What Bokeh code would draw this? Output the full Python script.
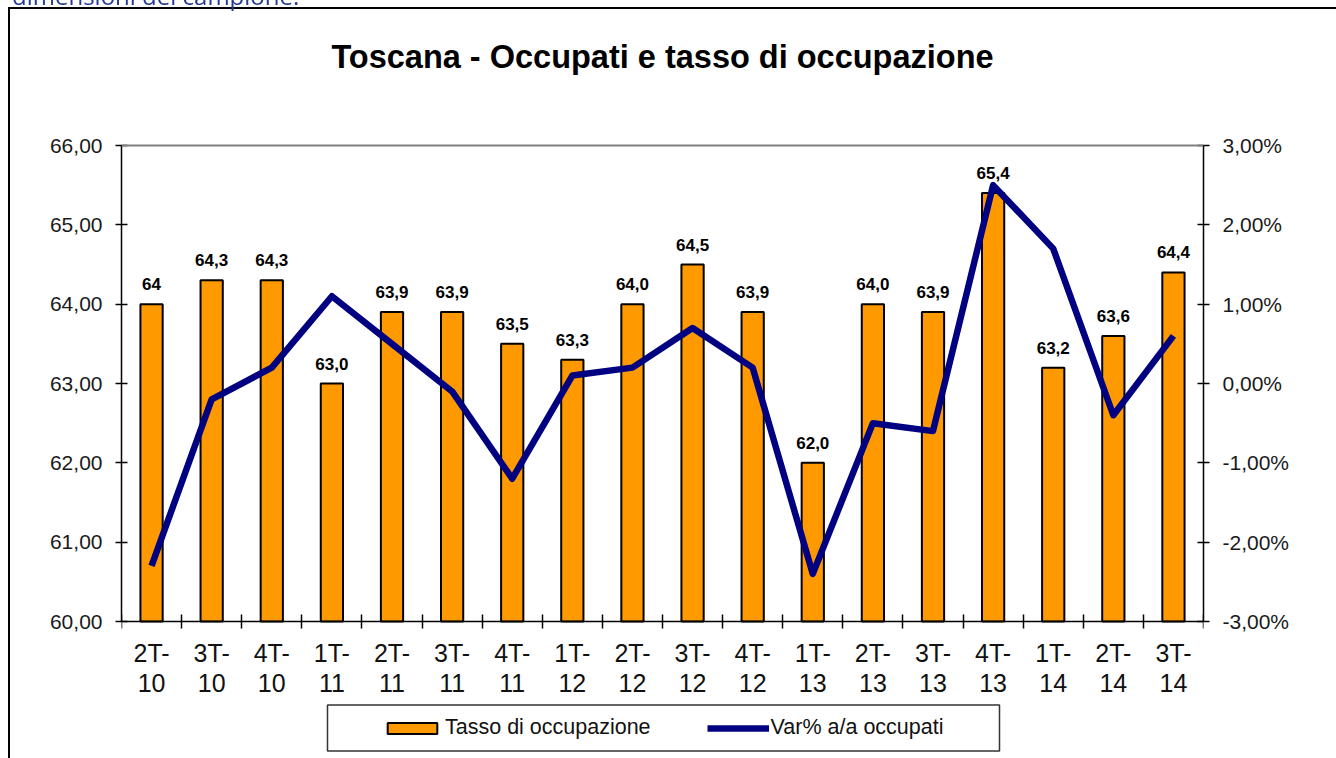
from bokeh.plotting import figure
from bokeh.models import (ColumnDataSource, Range1d, LinearAxis, FixedTicker, LabelSet, Label,
                          Legend, LegendItem, Div, Span, BoxAnnotation)
from bokeh.core.properties import value
from bokeh.embed import file_html
from bokeh.resources import INLINE

# ---------------- data ----------------
quarters = ["2T-10", "3T-10", "4T-10", "1T-11", "2T-11", "3T-11", "4T-11", "1T-12", "2T-12",
            "3T-12", "4T-12", "1T-13", "2T-13", "3T-13", "4T-13", "1T-14", "2T-14", "3T-14"]
quarter_tick_labels = ["2T-\n10", "3T-\n10", "4T-\n10", "1T-\n11", "2T-\n11", "3T-\n11", "4T-\n11",
                       "1T-\n12", "2T-\n12", "3T-\n12", "4T-\n12", "1T-\n13", "2T-\n13", "3T-\n13",
                       "4T-\n13", "1T-\n14", "2T-\n14", "3T-\n14"]
tasso = [64.0, 64.3, 64.3, 63.0, 63.9, 63.9, 63.5, 63.3, 64.0, 64.5, 63.9, 62.0, 64.0, 63.9,
         65.4, 63.2, 63.6, 64.4]
tasso_labels = ["64", "64,3", "64,3", "63,0", "63,9", "63,9", "63,5", "63,3", "64,0", "64,5",
                "63,9", "62,0", "64,0", "63,9", "65,4", "63,2", "63,6", "64,4"]
var_occupati = [-2.3, -0.2, 0.2, 1.1, 0.5, -0.1, -1.2, 0.1, 0.2, 0.7, 0.2, -2.4, -0.5, -0.6,
                2.5, 1.7, -0.4, 0.6]
left_ticks = [60, 61, 62, 63, 64, 65, 66]
left_tick_labels = ["60,00", "61,00", "62,00", "63,00", "64,00", "65,00", "66,00"]
right_ticks = [-3, -2, -1, 0, 1, 2, 3]
right_tick_labels = ["-3,00%", "-2,00%", "-1,00%", "0,00%", "1,00%", "2,00%", "3,00%"]
chart_title = "Toscana - Occupati e tasso di occupazione"
legend_labels = ["Tasso di occupazione", "Var% a/a occupati"]
page_caption = "dimensioni del campione."

# ---------------- geometry (pixels) ----------------
W, H = 1336, 758
AX_LEFT, AX_RIGHT = 121, 1203      # left / right value axes
AX_TOP, AX_BOTTOM = 145, 621       # top / bottom of the value scale
TITLE_Y = 56
FONT = "Liberation Sans"

n = len(quarters)
xpos = [i + 0.5 for i in range(n)]
ppu = (AX_BOTTOM - AX_TOP) / (left_ticks[-1] - left_ticks[0])       # px per unit
below = (H - AX_BOTTOM) / ppu
above = AX_TOP / ppu

src = ColumnDataSource(dict(x=xpos, q=quarters, tasso=tasso, lbl=tasso_labels, var=var_occupati))

p = figure(frame_width=AX_RIGHT - AX_LEFT, frame_height=H,
           min_border_left=AX_LEFT, min_border_right=W - AX_RIGHT,
           min_border_top=0, min_border_bottom=0,
           x_range=Range1d(0, n),
           y_range=Range1d(left_ticks[0] - below, left_ticks[-1] + above),
           output_backend="svg", toolbar_location=None)
p.extra_y_ranges = {"var": Range1d(right_ticks[0] - below, right_ticks[-1] + above)}

p.xgrid.visible = False
p.ygrid.visible = False
p.outline_line_color = None
p.background_fill_color = "white"
p.border_fill_color = "white"

# top line of the plot area
p.add_layout(Span(location=left_ticks[-1], dimension="width", line_color="#808080", line_width=2))

# x axis: drawn at the 60 level, labels at centres, ticks at category boundaries
xa = p.xaxis[0]
xa.fixed_location = left_ticks[0]
xa.ticker = FixedTicker(ticks=xpos, minor_ticks=list(range(n + 1)))
xa.major_label_overrides = {xv: lab for xv, lab in zip(xpos, quarter_tick_labels)}
xa.major_tick_in = 0
xa.major_tick_out = 0
xa.minor_tick_in = 7
xa.minor_tick_out = 7
xa.minor_tick_line_color = "black"
xa.minor_tick_line_width = 1.5
xa.axis_line_color = "black"
xa.axis_line_width = 1.5
xa.major_label_text_font = FONT
xa.major_label_text_font_size = "25px"
xa.major_label_text_line_height = 1.1
xa.major_label_text_color = "#111111"
xa.major_label_standoff = 10

ya = p.yaxis[0]
ya.ticker = FixedTicker(ticks=left_ticks)
ya.bounds = (left_ticks[0], left_ticks[-1])
ya.major_label_overrides = {t: s for t, s in zip(left_ticks, left_tick_labels)}
ya.major_tick_in = 6
ya.major_tick_out = 6
ya.minor_tick_line_color = None
ya.major_tick_line_width = 1.5
ya.axis_line_color = "black"
ya.axis_line_width = 1.5
ya.major_label_text_font = FONT
ya.major_label_text_font_size = "21px"
ya.major_label_text_color = "#1a1a1a"
ya.major_label_standoff = 13

ra = LinearAxis(y_range_name="var", ticker=FixedTicker(ticks=right_ticks),
                bounds=(right_ticks[0], right_ticks[-1]))
ra.major_label_overrides = {t: s for t, s in zip(right_ticks, right_tick_labels)}
ra.major_tick_in = 6
ra.major_tick_out = 6
ra.minor_tick_line_color = None
ra.major_tick_line_width = 1.5
ra.axis_line_color = "black"
ra.axis_line_width = 1.5
ra.major_label_text_font = FONT
ra.major_label_text_font_size = "21px"
ra.major_label_text_color = "#1a1a1a"
ra.major_label_standoff = 13
p.add_layout(ra, "right")

bars = p.vbar(x="x", top="tasso", bottom=left_ticks[0], width=0.37, source=src,
              fill_color="#FF9900", line_color="black", line_width=2)
line = p.line(x="x", y="var", y_range_name="var", source=src,
              line_color="#000080", line_width=6.5, line_join="round")

labels = LabelSet(x="x", y="tasso", text="lbl", source=src, y_offset=14,
                  text_align="center", text_baseline="alphabetic",
                  text_font=value(FONT), text_font_size="17px", text_font_style="bold",
                  text_color="black")
p.add_layout(labels)

# chart title
p.add_layout(Label(x=n / 2, y=left_ticks[-1] + (AX_TOP - TITLE_Y) / ppu, text=chart_title,
                   text_align="center", text_baseline="middle", text_font=FONT,
                   text_font_size="32.5px", text_font_style="bold", text_color="black"))

# legend (box drawn separately to get Excel-like inner spacing)
p.add_layout(BoxAnnotation(left=327, right=999, top=704.5, bottom=750.5,
                           left_units="canvas", right_units="canvas",
                           top_units="canvas", bottom_units="canvas",
                           fill_color="white", fill_alpha=1,
                           line_color="#333333", line_alpha=1.0, line_width=1.5,
                           level="annotation"))
legend = Legend(items=[LegendItem(label=legend_labels[0], renderers=[bars]),
                       LegendItem(label=legend_labels[1], renderers=[line])],
                orientation="horizontal", location=(381 - AX_LEFT, 18), margin=0, padding=0,
                spacing=56, glyph_width=62, glyph_height=14, label_standoff=2,
                label_height=24, border_line_color=None, background_fill_alpha=0,
                label_text_font=FONT, label_text_font_size="21.5px", label_text_color="#111111")
p.add_layout(legend)

# outer frame of the chart object and the cut-off caption of the page above it
frame_div = Div(text="", styles={"position": "fixed", "left": "3px", "top": "2px",
                                 "width": "1340px", "height": "760px", "overflow": "hidden",
                                 "border-left": "2px solid black", "border-top": "2px solid black",
                                 "pointer-events": "none"})
caption_div = Div(text=page_caption, styles={"position": "fixed", "left": "12px", "top": "-16px",
                                             "font-family": "Open Sans", "font-size": "24px",
                                             "line-height": "1", "color": "#233a94",
                                             "white-space": "nowrap", "margin": "0",
                                             "overflow": "visible"})

open("out.html", "w").write(file_html([p, frame_div, caption_div], INLINE))
